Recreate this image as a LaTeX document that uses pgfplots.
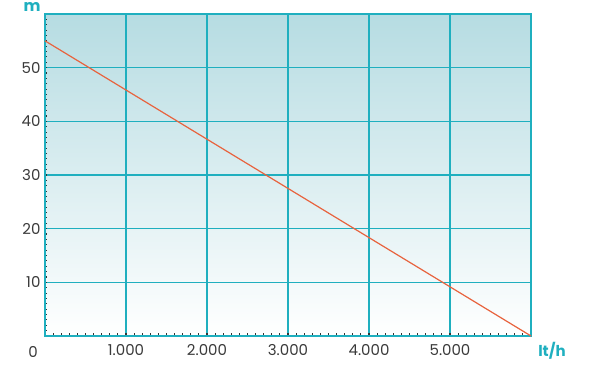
\documentclass[border=0pt]{standalone}
\usepackage{pgfplots}
\pgfplotsset{compat=1.18}
\usepackage{fontspec}
\setmainfont{Poppins}
\definecolor{tealgrid}{HTML}{1FAFBF}
\definecolor{topfill}{HTML}{B6DCE2}
\definecolor{redline}{HTML}{E8633E}
\definecolor{lbl}{HTML}{3A3A3A}
\begin{document}
\begin{tikzpicture}
\path[use as bounding box] (-45pt,-36pt) rectangle (545pt,336pt);
\begin{axis}[
  at={(0,0)}, anchor=south west,
  scale only axis, width=486pt, height=322pt,
  xmin=0, xmax=6000, ymin=0, ymax=60,
  xtick={1000,2000,3000,4000,5000},
  xticklabels={1.000,2.000,3.000,4.000,5.000},
  ytick={10,20,30,40,50},
  minor xtick={0,100,...,6000},
  minor ytick={0,1,...,60},
  tick pos=left,
  grid=major,
  major grid style={tealgrid, line width=1.6pt},
  axis line style={tealgrid, line width=1.7pt},
  tick align=inside,
  major tick length=0pt,
  minor tick length=2.5pt,
  minor tick style={black!80, line width=1.1pt},
  ticklabel style={font=\fontsize{15}{17}\selectfont, text=lbl},
  /pgf/number format/assume math mode=true,
  xticklabel style={yshift=-5pt},
  yticklabel style={xshift=-1pt},
  axis background/.style={shade, top color=topfill, bottom color=white},
  clip=false,
]
\addplot[redline, line width=1.2pt] coordinates {(0,55) (6000,0)};
\node[font=\fontsize{15}{17}\selectfont, text=lbl] at (axis cs:0,0) [xshift=-12pt, yshift=-16pt] {0};
\node[font=\bfseries\fontsize{16}{18}\selectfont, text=tealgrid] at (axis cs:0,60) [xshift=-13pt, yshift=7pt] {m};
\node[font=\bfseries\fontsize{15}{17}\selectfont, text=tealgrid] at (axis cs:6000,0) [xshift=21pt, yshift=-15pt] {lt/h};
\end{axis}
\end{tikzpicture}
\end{document}
